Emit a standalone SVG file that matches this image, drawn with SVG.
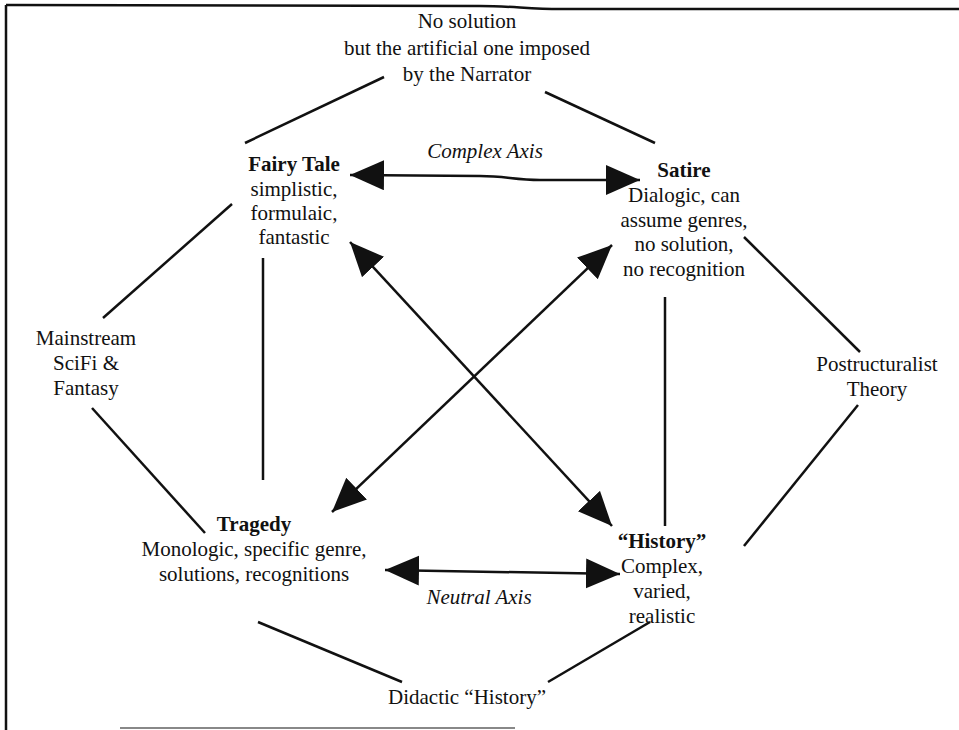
<svg xmlns="http://www.w3.org/2000/svg" width="959" height="730" viewBox="0 0 959 730">
<style>
text{font-family:"Liberation Serif","Times New Roman",Tinos,"DejaVu Serif","Noto Serif",serif;font-size:21px;fill:#111;text-anchor:middle}
.b{font-weight:bold}
.i{font-style:italic}
.ln{stroke:#111;stroke-width:2.5;fill:none}
.ar{stroke:#111;stroke-width:2.5;fill:none;marker-start:url(#ah);marker-end:url(#ah)}
</style>
<defs>
<marker id="ah" markerUnits="userSpaceOnUse" markerWidth="36" markerHeight="32" refX="34" refY="15" orient="auto-start-reverse" viewBox="0 0 36 32">
<path d="M0,0 L34,15 L0,30 z" fill="#111"/>
</marker>
</defs>
<rect width="959" height="730" fill="#fff"/>
<g id="frame">
<path class="ln" d="M6,5 L480,6 C510,6 530,9 560,9 L959,9"/>
<path class="ln" d="M6,5 L6,730"/>
<path d="M120,728 L515,728" stroke="#888" stroke-width="2" fill="none"/>
</g>
<g id="connectors">
<path class="ln" d="M384,77 L245,143"/>
<path class="ln" d="M545,92 L655,143"/>
<path class="ln" d="M232,204 L103,318"/>
<path class="ln" d="M92,408 L205,533"/>
<path class="ln" d="M744,237 L860,352"/>
<path class="ln" d="M858,405 L744,546"/>
<path class="ln" d="M258,622 L402,682"/>
<path class="ln" d="M650,622 L548,682"/>
<path class="ln" d="M263,258 L263,480"/>
<path class="ln" d="M665,297 L665,526"/>
<path class="ar" d="M350,175 L480,176 C505,176 515,180 540,180 L640,180"/>
<path class="ar" d="M385,570 L620,574"/>
<path class="ar" d="M350,242 L612,526"/>
<path class="ar" d="M612,245 L332,512"/>
</g>
<g id="top-label">
<text x="467" y="28">No solution</text>
<text x="467" y="55">but the artificial one imposed</text>
<text x="467" y="81">by the Narrator</text>
</g>
<g id="fairy-tale">
<text class="b" x="294" y="171">Fairy Tale</text>
<text x="294" y="196">simplistic,</text>
<text x="294" y="220">formulaic,</text>
<text x="294" y="244">fantastic</text>
</g>
<g id="satire">
<text class="b" x="684" y="177">Satire</text>
<text x="684" y="202">Dialogic, can</text>
<text x="684" y="227">assume genres,</text>
<text x="684" y="251">no solution,</text>
<text x="684" y="276">no recognition</text>
</g>
<g id="mainstream">
<text x="86" y="345">Mainstream</text>
<text x="86" y="370">SciFi &amp;</text>
<text x="86" y="395">Fantasy</text>
</g>
<g id="postructuralist">
<text x="877" y="371">Postructuralist</text>
<text x="877" y="396">Theory</text>
</g>
<g id="tragedy">
<text class="b" x="254" y="531">Tragedy</text>
<text x="254" y="556">Monologic, specific genre,</text>
<text x="254" y="581">solutions, recognitions</text>
</g>
<g id="history">
<text class="b" x="662" y="548">“History”</text>
<text x="662" y="573">Complex,</text>
<text x="662" y="598">varied,</text>
<text x="662" y="623">realistic</text>
</g>
<g id="didactic">
<text x="467" y="704">Didactic “History”</text>
</g>
<g id="axis-labels">
<text class="i" x="485" y="158">Complex Axis</text>
<text class="i" x="479" y="604">Neutral Axis</text>
</g>
</svg>
